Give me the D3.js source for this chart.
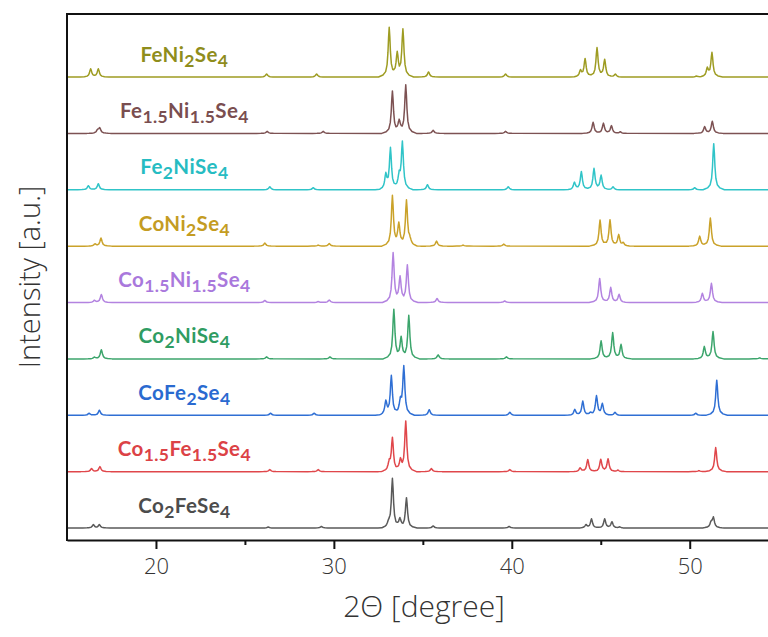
<!DOCTYPE html>
<html><head><meta charset="utf-8">
<script src="https://cdn.jsdelivr.net/npm/d3@7"></script>
<style>body{margin:0;background:#fff} svg{display:block}</style>
</head><body><svg id="c" width="768" height="637"></svg>
<script>
// ---------- data ----------
const samples = ["FeNi2Se4","Fe1.5Ni1.5Se4","Fe2NiSe4","CoNi2Se4","Co1.5Ni1.5Se4","Co2NiSe4","CoFe2Se4","Co1.5Fe1.5Se4","Co2FeSe4"];
// peaks: [2theta (deg), intensity (a.u.)]
const peaks_FeNi2Se4 = [[16.33,8],[16.76,8],[26.22,3],[29.03,3],[33.11,49],[33.56,22],[33.88,47],[35.32,5],[39.65,3],[43.86,6],[44.12,18],[44.79,29],[45.22,17],[45.82,3],[50.38,1],[50.99,8],[51.25,24]];
const peaks_Fe15Ni15Se4 = [[16.72,3],[16.84,5],[26.25,2],[29.4,2],[33.29,42],[33.67,11],[34.04,48],[35.58,3],[39.65,2],[44.57,11],[45.15,10],[45.6,7.5],[46.1,1.5],[50.84,6.5],[51.27,12]];
const peaks_Fe2NiSe4 = [[16.2,4],[16.76,6],[26.4,3],[28.84,2],[32.92,14],[33.18,41],[33.67,12],[33.85,47],[35.26,5],[39.8,3],[43.52,7],[43.91,18],[44.62,21],[45.02,14],[45.69,3],[50.28,2],[51.35,46]];
const peaks_CoNi2Se4 = [[16.57,2],[16.91,8],[26.12,3],[29.12,1],[29.74,2.5],[33.29,50],[33.65,21],[34.08,45],[34.27,5],[35.77,5],[37.26,1],[39.55,2],[44.96,26],[45.52,26],[46.01,11],[46.26,3],[50.56,10],[51.16,28]];
const peaks_Co15Ni15Se4 = [[16.54,2],[16.93,8],[26.12,2],[29.12,1],[29.74,2.5],[33.33,49],[33.72,24],[34.13,37],[35.8,4],[39.6,1.5],[44.94,24],[45.56,15],[46.03,8],[50.71,9],[51.22,19]];
const peaks_Co2NiSe4 = [[16.54,1.5],[16.93,9],[26.22,2],[29.78,2],[33.37,49],[33.78,20],[34.21,43],[35.86,4],[39.7,2],[45.02,18],[45.67,26],[46.14,14],[50.82,12],[51.31,27],[53.93,1]];
const peaks_CoFe2Se4 = [[16.24,2],[16.82,5],[26.44,2],[28.89,2],[32.92,13],[33.23,39],[33.74,12],[33.93,48],[35.36,5.5],[39.89,3],[43.54,5.5],[43.99,14],[44.42,2],[44.76,19],[45.09,11],[45.8,3],[50.34,2],[51.52,35]];
const peaks_Co15Fe15Se4 = [[16.38,3],[16.85,5],[26.4,2],[29.12,2],[33.11,8],[33.29,33],[33.74,10],[34.04,50],[35.48,3],[39.89,2],[43.84,3.5],[44.27,12],[45.0,12],[45.41,12.5],[45.97,1.5],[50.52,1],[51.46,24]];
const peaks_Co2FeSe4 = [[16.48,3.3],[16.82,3.3],[26.31,1],[29.3,1.5],[33.08,4],[33.29,49],[33.71,8],[34.08,30],[35.58,2],[39.85,1.5],[44.17,3],[44.48,9],[45.22,9],[45.63,6],[46.07,1],[51.2,5],[51.33,10]];
const seriesPeaks = [peaks_FeNi2Se4,peaks_Fe15Ni15Se4,peaks_Fe2NiSe4,peaks_CoNi2Se4,peaks_Co15Ni15Se4,peaks_Co2NiSe4,peaks_CoFe2Se4,peaks_Co15Fe15Se4,peaks_Co2FeSe4];
const xTicks = [20,30,40,50];
const xMinorTicks = [25,35,45];
const xTitle = "2\u0398 [degree]";
const yTitle = "Intensity [a.u.]";

// ---------- style ----------
const lineColors  = ["#9e9c22","#7d5253","#30c4c8","#caa22a","#b383e0","#3ca56c","#2f6fd4","#e0474b","#5a5a5a"];
const labelColors = ["#8f8d1c","#7a4e50","#26bcc2","#c49c22","#a978dc","#2f9c62","#2a6ad0","#dc4246","#4c4c4c"];
const W = 768, H = 637;
const plotLeft = 67, plotTop = 14, axisY = 540;
const rowOffset = 56.25;
const labelTheta = 21.6;
// peak profile (Lorentzian-like, piecewise)
const kd = [0, 0.035, 0.07, 0.12, 0.2, 0.35, 0.6];
const kv = [1, 0.8, 0.5, 0.25, 0.11, 0.04, 0];

const svg = d3.select("#c");
const x = d3.scaleLinear().domain([15, 54.4]).range([plotLeft, W]);
const y = d3.scaleLinear().domain([0, 450]).range([528, 77]);

svg.append("defs").append("clipPath").attr("id","clip")
  .append("rect").attr("x", plotLeft).attr("y", plotTop).attr("width", W-plotLeft).attr("height", axisY-plotTop);

function kernel(d){
  d = Math.abs(d);
  if (d >= kd[kd.length-1]) return 0;
  for (let i=0;i<kd.length-1;i++){
    if (d>=kd[i] && d<=kd[i+1]){
      const t=(d-kd[i])/(kd[i+1]-kd[i]);
      return kv[i]+(kv[i+1]-kv[i])*t;
    }
  }
  return 0;
}
function profile(peaks){
  const xs = new Set([15, 54.4]);
  peaks.forEach(([p])=>kd.forEach(d=>{xs.add(+(p-d).toFixed(4)); xs.add(+(p+d).toFixed(4));}));
  return Array.from(xs).sort((a,b)=>a-b).map(t=>[t, d3.sum(peaks, ([p,h])=>h*kernel(t-p))]);
}

const g = svg.append("g").attr("clip-path","url(#clip)");
const line = d3.line();
seriesPeaks.forEach((pk,i)=>{
  const off = (samples.length-1-i)*rowOffset;
  const pts = profile(pk).map(([t,v])=>[x(t), y(v+off)]);
  g.append("path").attr("d", line(pts)).attr("fill","none")
    .attr("stroke", lineColors[i]).attr("stroke-width",1.5).attr("stroke-linejoin","round");
});

// labels with subscripts
samples.forEach((s,i)=>{
  const off = (samples.length-1-i)*rowOffset;
  const t = svg.append("text").attr("x", x(labelTheta)).attr("y", y(off)-15.5)
    .attr("text-anchor","middle").attr("fill", labelColors[i])
    .style("font-family","'Century Gothic','URW Gothic',Lato,'Open Sans',sans-serif")
    .style("font-weight","700").style("font-size","20.5px").style("letter-spacing","0.4px");
  const parts = s.split(/(\d+(?:\.\d+)?)/).filter(p=>p.length);
  let lowered = false;
  parts.forEach(p=>{
    if (/^\d/.test(p)) { t.append("tspan").attr("dy", 5).style("font-size","17.5px").text(p); lowered = true; }
    else {
      const ts = t.append("tspan").text(p);
      if (lowered) { ts.attr("dy",-5); lowered = false; }
    }
  });
});

// axes
const axisFont = "'Open Sans',sans-serif";
const xa = svg.append("g").attr("transform",`translate(0,${axisY})`)
  .call(d3.axisBottom(x).tickValues(xTicks).tickSize(9).tickSizeOuter(0).tickFormat(d3.format("d")));
xa.select(".domain").attr("stroke","#111").attr("stroke-width",2);
xa.selectAll(".tick line").attr("stroke","#111").attr("stroke-width",2);
xa.selectAll(".tick text").attr("y",34).attr("dy",0).attr("fill","#333")
  .style("font-family",axisFont).style("font-weight","300").style("font-size","22px");
const xm = svg.append("g").attr("transform",`translate(0,${axisY})`)
  .call(d3.axisBottom(x).tickValues(xMinorTicks).tickSize(5).tickSizeOuter(0).tickFormat(""));
xm.select(".domain").remove();
xm.selectAll(".tick line").attr("stroke","#111").attr("stroke-width",2);

svg.append("line").attr("x1",plotLeft).attr("x2",plotLeft).attr("y1",plotTop-1).attr("y2",axisY+1)
  .attr("stroke","#111").attr("stroke-width",2);
svg.append("line").attr("x1",plotLeft).attr("x2",W).attr("y1",plotTop).attr("y2",plotTop)
  .attr("stroke","#111").attr("stroke-width",2);

svg.append("text").attr("x", 424).attr("y", 617).attr("text-anchor","middle")
  .attr("fill","#333").style("font-family",axisFont).style("font-weight","300").style("font-size","30px").text(xTitle);
svg.append("text").attr("transform","translate(40,277) rotate(-90)").attr("text-anchor","middle")
  .attr("fill","#333").style("font-family",axisFont).style("font-weight","300").style("font-size","29px").text(yTitle);
</script></body></html>
